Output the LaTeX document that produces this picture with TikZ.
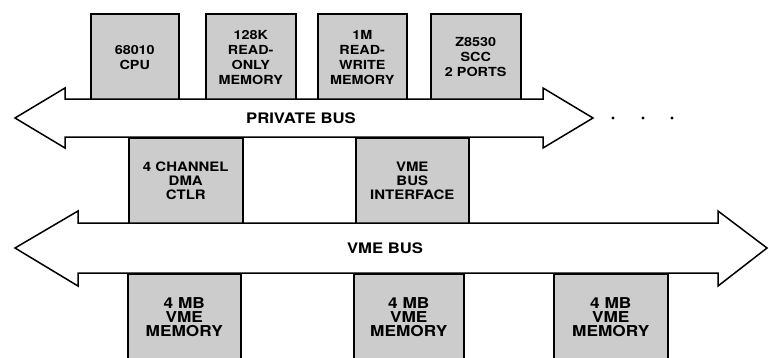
\documentclass[tikz,border=0pt]{standalone}
\usepackage{fontspec}
\newfontfamily\diagfont[FakeStretch=1.15]{TeX Gyre Heros}
\usetikzlibrary{positioning}

\begin{document}
\begin{tikzpicture}[x=1pt,y=-1pt,line width=1.5pt,
    unitbox/.style={draw,fill=gray!40,inner sep=0pt,anchor=north west,align=center},
    topfont/.style={font=\diagfont\bfseries\fontsize{12.5}{15}\selectfont},
    midfont/.style={font=\diagfont\bfseries\fontsize{13}{14}\selectfont},
    memfont/.style={font=\diagfont\bfseries\fontsize{15}{14}\selectfont},
    buslabel/.style={font=\diagfont\bfseries\fontsize{14.5}{17}\selectfont},
    busline/.style={draw,fill=white,line join=miter}]
  \useasboundingbox (0,0) rectangle (769,357);
  \clip (0,0) rectangle (769,357);

  % units on the private bus
  \node[unitbox,topfont,minimum width=88pt,minimum height=87pt] (cpu) at (90,13) {68010\\CPU};
  \node[unitbox,topfont,minimum width=90pt,minimum height=87pt] (rom) at (205,13) {128K\\READ-\\ONLY\\MEMORY};
  \node[unitbox,topfont,minimum width=89pt,minimum height=87pt] (ram) at (317,13) {1M\\READ-\\WRITE\\MEMORY};
  \node[unitbox,topfont,minimum width=90pt,minimum height=87pt] (scc) at (430,13) {Z8530\\SCC\\2 PORTS};

  % units between the buses
  \node[unitbox,midfont,minimum width=114pt,minimum height=86pt] (dma) at (128,137) {4 CHANNEL\\DMA\\CTLR};
  \node[unitbox,midfont,minimum width=113pt,minimum height=86pt] (vmeif) at (355,137) {VME\\BUS\\INTERFACE};

  % memory boards on the VME bus
  \foreach \n/\x/\w in {memA/127/113,memB/353/110,memC/553/114}{
    \node[unitbox,memfont,minimum width=\w pt,minimum height=87pt] (\n) at (\x,273) {4 MB\\VME\\MEMORY};
  }

  % private bus
  \path[busline] (15,118) -- (65,88) -- (65,99) -- (543,99) -- (543,88) -- (593,118)
    -- (543,148) -- (543,137) -- (65,137) -- (65,148) -- cycle;
  \node[buslabel] (pbus) at (301,118) {PRIVATE BUS};
  \foreach \x in {613,643,672}{
    \fill (\x,118) circle (1.6pt);
  }

  % VME bus
  \path[busline] (15,248) -- (78,211) -- (78,223) -- (718,223) -- (718,211) -- (767,248)
    -- (718,286) -- (718,273) -- (78,273) -- (78,286) -- cycle;
  \node[buslabel] (vbus) at (385,248) {VME BUS};
\end{tikzpicture}
\end{document}
